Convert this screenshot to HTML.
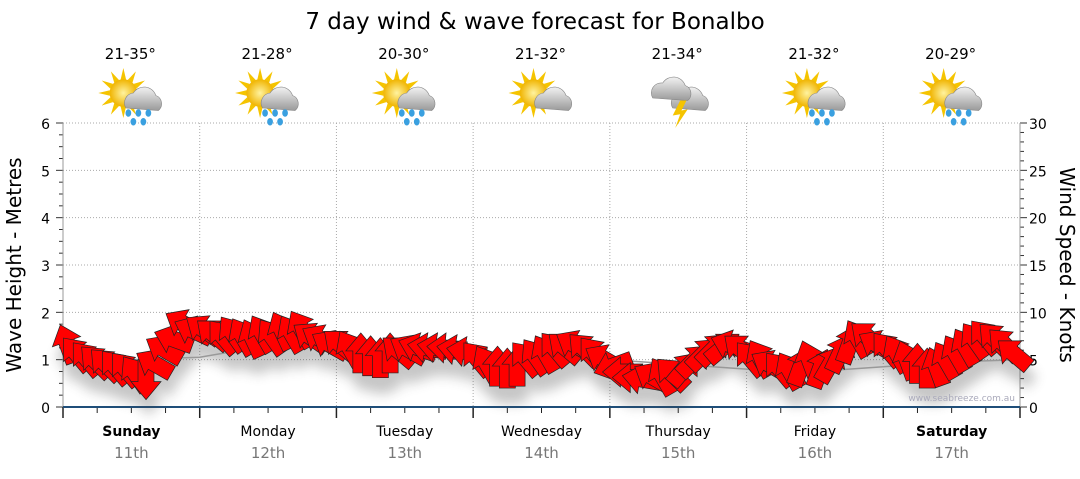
<!DOCTYPE html>
<html><head><meta charset="utf-8"><style>
body{margin:0;background:#fff;width:1080px;height:475px;overflow:hidden;font-family:"DejaVu Sans","Liberation Sans",sans-serif}
</style></head><body>
<svg id="chart" width="1080" height="475" xmlns="http://www.w3.org/2000/svg" font-family="DejaVu Sans, Liberation Sans, sans-serif">
<defs>
<filter id="sh" x="-50%" y="-50%" width="200%" height="200%"><feGaussianBlur stdDeviation="6"/></filter>
<radialGradient id="sun" cx="50%" cy="50%" r="50%"><stop offset="0" stop-color="#fff3a0"/><stop offset="1" stop-color="#f0b400"/></radialGradient>
<linearGradient id="cloud" x1="0" y1="0" x2="0" y2="1"><stop offset="0" stop-color="#f2f2f2"/><stop offset="1" stop-color="#9a9a9a"/></linearGradient>
</defs>
<text x="535" y="29" font-size="23" text-anchor="middle" fill="#000">7 day wind &amp; wave forecast for Bonalbo</text>
<g id="grid"></g>
<g id="axes"></g>
<g id="icons"></g>
<g id="shadow" filter="url(#sh)" opacity="0.3"></g>
<polyline id="wave" fill="none" stroke="#999" stroke-width="1.5"/>
<g id="arrows"></g>
<text transform="translate(21,265) rotate(-90)" font-size="20" text-anchor="middle">Wave Height - Metres</text>
<text transform="translate(1060,265) rotate(90)" font-size="20" text-anchor="middle">Wind Speed - Knots</text>
<text x="1015" y="401" font-size="9" text-anchor="end" fill="#aab">www.seabreeze.com.au</text>
</svg>
<script>
const days=["Sunday","Monday","Tuesday","Wednesday","Thursday","Friday","Saturday"];
const dates=["11th","12th","13th","14th","15th","16th","17th"];
const temps=["21-35°","21-28°","20-30°","21-32°","21-34°","21-32°","20-29°"];
const icons=["rain","rain","rain","cloud","storm","rain","rain"];
const waveTicks=[0,1,2,3,4,5,6];
const windTicks=[0,5,10,15,20,25,30];
const windSpeed=[
6.5,5.5,5,4.7,4.4,4.1,3.9,3.4,3.1,4.5,6,7.1,8.7,8,
8.1,7.6,7.3,7.6,7.3,7.1,7.6,7.3,7.9,7.6,8.1,7.3,7.1,6.5,
6.5,6,5.5,5.2,5,5.5,5.8,6,6.2,6.2,6.2,6.2,6,5.8,
5,4.4,4.1,3.9,4.1,5,5.2,5.5,6,6.2,6.5,6,5.5,5,
4.4,3.7,3.1,2.9,3.1,3.1,3.4,3.9,4.8,5.5,6,6.2,6.5,6,
5,5,4.4,3.9,3.7,4.1,4.8,3.9,4.4,5.5,6.5,7.1,7.3,6.5,
6,5.5,4.8,4.4,3.9,4.1,4.8,5.5,6.2,6.9,7.3,7.1,6.5,5.5];
const windDir=[
-20,-40,-40,-45,-45,-40,-40,-35,180,-60,-60,-70,-60,-65,
-55,-50,-40,-35,-30,-25,-30,-35,-25,-30,-30,-55,-60,-60,
-50,-30,0,0,0,0,-50,-60,-70,-80,-80,-85,-80,-80,
-40,-30,0,0,0,-40,-35,-30,-40,-50,-60,-45,-40,-60,
-110,-90,-90,-80,-60,-30,-45,40,45,45,45,50,-70,-50,
-40,-30,-60,-40,-30,20,-20,20,30,25,20,-30,-50,-60,
-40,-30,-20,0,0,-20,-30,-30,-30,-35,-40,-45,-45,-50];
const waveHeight=[1.1,1.0,1.05,1.3,1.25,1.2,1.1,1.05,1.0,0.9,0.8,0.75,0.85,0.95,1.0];
const X0=63,X1=1020,Y0=407,Y1=123;
const sx=i=>X0+(i+0.5)*(X1-X0)/windSpeed.length;
const yWave=v=>Y0-(v/6)*(Y0-Y1);
const yWind=v=>Y0-(v/30)*(Y0-Y1);
const NS="http://www.w3.org/2000/svg";
function mk(t,a,p){const e=document.createElementNS(NS,t);for(const k in a)e.setAttribute(k,a[k]);(p||document.getElementById('chart')).appendChild(e);return e;}
const grid=document.getElementById('grid'),axes=document.getElementById('axes');
const dw=(X1-X0)/7;
waveTicks.forEach(v=>{if(v>0){const l=mk('line',{x1:X0,x2:X1,y1:yWave(v),y2:yWave(v),stroke:'#aaa','stroke-dasharray':'1,2'},grid);

}
const t=mk('text',{x:50,y:yWave(v)+6,'font-size':14,'text-anchor':'end'},axes);t.textContent=v;

});
windTicks.forEach(v=>{const t=mk('text',{x:1029,y:yWind(v)+6,'font-size':14},axes);t.textContent=v;

});
for(let v=0;v<=6;v+=0.25){const y=yWave(v);mk('line',{x1:X0,x2:X0-(v%1?4:7),y1:y,y2:y,stroke:'#333'},axes);}
for(let v=0;v<=30;v+=1){const y=yWind(v);mk('line',{x1:X1,x2:X1+(v%5?4:7),y1:y,y2:y,stroke:'#333'},axes);}
mk('line',{x1:X0,x2:X0,y1:Y1,y2:Y0,stroke:'#999'},axes);
mk('line',{x1:X1,x2:X1,y1:Y1,y2:Y0,stroke:'#999'},axes);
for(let d=0;d<=7;d++){const x=X0+d*dw;
if(d>0&&d<7){const l=mk('line',{x1:x,x2:x,y1:Y1,y2:Y0,stroke:'#aaa','stroke-dasharray':'1,2'},grid);

}
mk('line',{x1:x,x2:x,y1:Y0,y2:Y0+11,stroke:'#222','stroke-width':1.5},axes);
if(d<7)for(let q=1;q<4;q++){const xx=x+q*dw/4;mk('line',{x1:xx,x2:xx,y1:Y0,y2:Y0+6,stroke:'#222'},axes);}}
mk('line',{x1:X0,x2:X1,y1:Y0,y2:Y0,stroke:'#1f4e79','stroke-width':2},axes);
days.forEach((d,i)=>{const cx=X0+(i+0.5)*dw;const b=(i==0||i==6);
const t=mk('text',{x:cx,y:436,'font-size':14,'text-anchor':'middle','font-weight':b?'bold':'normal'},axes);t.textContent=d;


const t2=mk('text',{x:cx,y:458,'font-size':15,'text-anchor':'middle',fill:'#777'},axes);t2.textContent=dates[i];


const t3=mk('text',{x:cx-1,y:59,'font-size':15,'text-anchor':'middle'},axes);t3.textContent=temps[i];


const g=mk('g',{transform:`translate(${cx+2},98) scale(1.25)`},document.getElementById('icons'));


if(icons[i]!='storm'){for(let r=0;r<12;r++){const a=r*30*Math.PI/180;mk('polygon',{points:`${-8+Math.cos(a)*20},${-4+Math.sin(a)*20} ${-8+Math.cos(a+0.2)*11},${-4+Math.sin(a+0.2)*11} ${-8+Math.cos(a-0.2)*11},${-4+Math.sin(a-0.2)*11}`,fill:'#f5c400'},g);}
mk('circle',{cx:-8,cy:-4,r:11,fill:'url(#sun)'},g);}
mk('path',{d:'M-6,8 a8,8 0 0 1 6,-12 a10,10 0 0 1 18,2 a7,7 0 0 1 2,12 z',fill:'url(#cloud)',stroke:'#888','stroke-width':0.5},g);
if(icons[i]=='storm'){mk('path',{d:'M-22,0 a8,8 0 0 1 8,-12 a10,10 0 0 1 18,2 a7,7 0 0 1 2,12 z',fill:'url(#cloud)',stroke:'#888','stroke-width':0.5},g);
mk('polygon',{points:'0,2 -6,14 0,13 -4,24 6,9 1,10 5,2',fill:'#f5c400'},g);}
if(icons[i]=='rain'){[[-4,12],[4,12],[12,12],[0,19],[8,19]].forEach(p=>mk('ellipse',{cx:p[0],cy:p[1],rx:2.3,ry:3,fill:'#3aa0e0'},g));}
});
const wp=waveHeight.map((v,i)=>`${X0+i*(X1-X0)/(waveHeight.length-1)},${yWave(v)}`).join(' ');
document.getElementById('wave').setAttribute('points',wp);
const ag=document.getElementById('arrows'),sg=document.getElementById('shadow');
const shape='M0,-22 L15,-4 L8,-4 L8,18 L-8,18 L-8,-4 L-15,-4 Z';
windSpeed.forEach((s,i)=>{const x=sx(i),y=yWind(s);
mk('path',{d:shape,fill:'#444',transform:`translate(${x+3},${y+16}) rotate(${windDir[i]})`},sg);
const a=mk('path',{d:shape,fill:'#ff0000',stroke:'#222','stroke-width':0.7,transform:`translate(${x},${y}) rotate(${windDir[i]})`},ag);

});
</script>
</body></html>
